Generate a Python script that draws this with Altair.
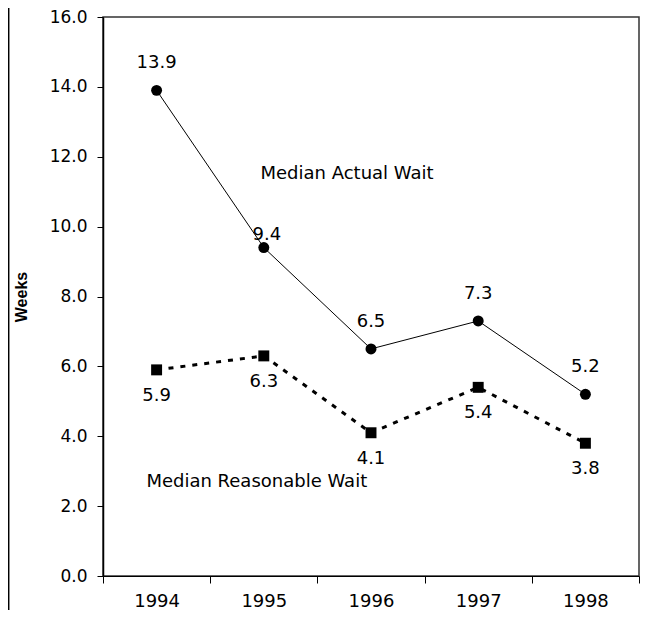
import altair as alt
import pandas as pd

years = ["1994", "1995", "1996", "1997", "1998"]
actual = [13.9, 9.4, 6.5, 7.3, 5.2]
reasonable = [5.9, 6.3, 4.1, 5.4, 3.8]
y_ticks = [0, 2, 4, 6, 8, 10, 12, 14, 16]

df_a = pd.DataFrame({"year": years, "value": actual})
df_r = pd.DataFrame({"year": years, "value": reasonable})
df_a["label"] = [f"{v:.1f}" for v in actual]
df_r["label"] = [f"{v:.1f}" for v in reasonable]

FONT = "DejaVu Sans"
FS = 18

X = alt.X(
    "year:O",
    scale=alt.Scale(type="band", paddingInner=0, paddingOuter=0),
    axis=alt.Axis(
        title=None, tickBand="extent", labelAngle=0, labelFont=FONT,
        labelFontSize=FS, labelPadding=9, tickSize=7, labelColor="black",
        domainColor="black", tickColor="black",
    ),
)
Y = alt.Y(
    "value:Q",
    scale=alt.Scale(domain=[0, 16], nice=False, zero=True),
    axis=alt.Axis(
        values=y_ticks, format=".1f", grid=False, tickSize=6, labelFont=FONT,
        labelFontSize=17, labelPadding=10, labelColor="black",
        domainColor="black", tickColor="black", domainWidth=1.5,
        title="Weeks", titleFont="Liberation Sans", titleFontWeight="bold",
        titleFontSize=16, titleColor="black", titlePadding=20,
    ),
)

a_line = alt.Chart(df_a).mark_line(color="black", strokeWidth=1).encode(x=X, y=Y)
a_pts = alt.Chart(df_a).mark_point(shape="circle", filled=True, size=120,
                                   color="black", opacity=1).encode(x=X, y=Y)
a_txt = alt.Chart(df_a).transform_filter(alt.datum.year != "1995").mark_text(
    font=FONT, fontSize=FS, dy=-27, color="black").encode(x=X, y=Y, text="label:N")
a_txt2 = alt.Chart(df_a).transform_filter(alt.datum.year == "1995").mark_text(
    font=FONT, fontSize=FS, dy=-13, dx=3, color="black").encode(x=X, y=Y, text="label:N")

r_line = alt.Chart(df_r).mark_line(color="black", strokeWidth=3,
                                   strokeDash=[5, 7]).encode(x=X, y=Y)
r_pts = alt.Chart(df_r).mark_point(shape="square", filled=True, size=120,
                                   color="black", opacity=1).encode(x=X, y=Y)
r_txt = alt.Chart(df_r).mark_text(font=FONT, fontSize=FS, dy=26,
                                  color="black").encode(x=X, y=Y, text="label:N")

ann_a = alt.Chart(pd.DataFrame({"t": ["Median Actual Wait"]})).mark_text(
    font=FONT, fontSize=FS, color="black", dx=-24).encode(
    x=alt.datum("1996"), y=alt.datum(11.5), text="t:N")
ann_r = alt.Chart(pd.DataFrame({"t": ["Median Reasonable Wait"]})).mark_text(
    font=FONT, fontSize=FS, color="black", dx=-7).encode(
    x=alt.datum("1995"), y=alt.datum(2.68), text="t:N")

border = alt.Chart(pd.DataFrame({"a": [0]})).mark_rule(color="black", strokeWidth=1.5).encode(
    x=alt.value(-94.3), y=alt.value(-9), y2=alt.value(593))

chart = alt.layer(
    border, a_line, r_line, a_pts, r_pts, a_txt, a_txt2, r_txt, ann_a, ann_r
).properties(
    width=536, height=559,
    autosize=alt.AutoSizeParams(type="none"),
    padding={"left": 95, "top": 9, "right": 1, "bottom": 34},
).configure_view(stroke="#333333", strokeWidth=1.5)

chart.save("out.html", embed_options={"renderer": "svg", "actions": False})
